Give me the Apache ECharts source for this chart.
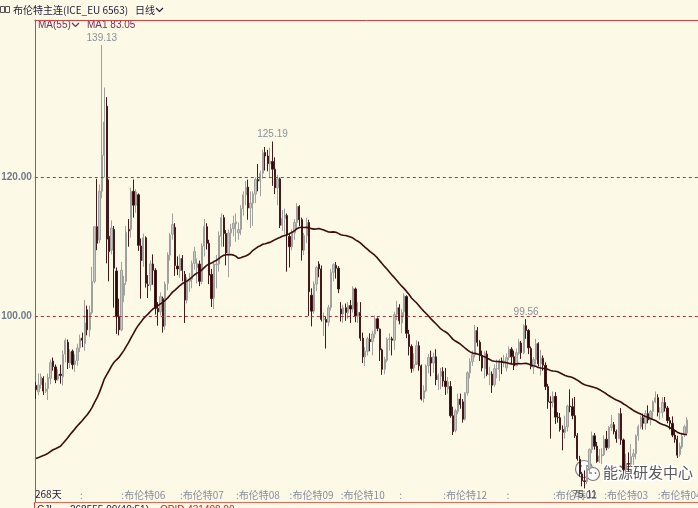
<!DOCTYPE html>
<html><head><meta charset="utf-8">
<script src="https://cdn.jsdelivr.net/npm/echarts/dist/echarts.min.js"></script>
<style>html,body{margin:0;padding:0;background:#fdf9e7;}#c{width:698px;height:508px;}</style>
</head><body><div id="c"></div>
<script>
// Trading days shown (268 bars)
const tradingDays = {
  '2022-01':[27,28,31],
  '2022-02':[1,2,3,4,7,8,9,10,11,14,15,16,17,18,21,22,23,24,25,28],
  '2022-03':[1,2,3,4,7,8,9,10,11,14,15,16,17,18,21,22,23,24,25,28,29,30,31],
  '2022-04':[1,4,5,6,7,8,11,12,13,14,18,19,20,21,22,25,26,27,28,29],
  '2022-05':[2,3,4,5,6,9,10,11,12,13,16,17,18,19,20,23,24,25,26,27,30,31],
  '2022-06':[1,2,3,6,7,8,9,10,13,14,15,16,17,20,21,22,23,24,27,28,29,30],
  '2022-07':[1,4,5,6,7,8,11,12,13,14,15,18,19,20,21,22,25,26,27,28,29],
  '2022-08':[1,2,3,4,5,8,9,10,11,12,15,16,17,18,19,22,23,24,25,26,29,30,31],
  '2022-09':[1,2,5,6,7,8,9,12,13,14,15,16,19,20,21,22,23,26,27,28,29,30],
  '2022-10':[3,4,5,6,7,10,11,12,13,14,17,18,19,20,21,24,25,26,27,28,31],
  '2022-11':[1,2,3,4,7,8,9,10,11,14,15,16,17,18,21,22,23,24,25,28,29,30],
  '2022-12':[1,2,5,6,7,8,9,12,13,14,15,16,19,20,21,22,23,27,28,29,30],
  '2023-01':[3,4,5,6,9,10,11,12,13,16,17,18,19,20,23,24,25,26,27,30,31],
  '2023-02':[1,2,3,6,7,8,9]
};
const opens = [
89.96,89.06,90.08,91.0,89.15,89.52,91.01,93.50,92.65,90.90,
91.60,91.20,94.50,96.20,93.20,94.90,93.00,93.60,95.4,96.8,
96.0,100.9,98.0,100.5,105.0,112.9,111.0,118.0,123.2,130.3,
111.5,109.5,112.5,106.5,100.0,98.0,103.0,105.0,112.5,112.5,
118.0,116.0,117.5,110.1,108.0,111.3,104.5,104.5,107.5,106.6,
101.1,100.6,102.5,98.6,104.7,108.8,111.8,112.8,107.2,106.5,
108.3,106.0,102.3,105.0,105.3,107.6,107.0,107.5,105.0,110.1,
112.9,110.5,106.0,102.6,107.4,107.5,111.5,114.2,111.9,109.0,
112.0,112.6,113.3,112.0,112.5,115.5,117.5,118.6,115.6,116.3,
117.6,119.7,119.5,120.6,123.6,123.1,122.0,122.3,121.2,118.5,
119.8,113.1,114.1,114.5,111.5,110.0,112.0,113.5,115.8,113.9,
109.5,111.6,113.5,103.0,100.7,104.6,107.5,106.8,99.5,99.5,
99.1,101.2,106.3,107.3,106.9,101.0,100.3,101.2,100.5,101.5,
101.0,103.9,100.0,100.5,96.8,94.1,94.9,96.6,96.3,97.4,
99.6,98.1,95.1,92.3,93.6,96.6,96.7,96.5,100.2,101.2,
99.0,100.6,102.8,97.3,95.6,92.5,93.0,95.7,92.8,88.1,
89.2,92.8,94.0,93.2,94.1,90.8,91.3,92.0,90.6,89.5,
89.8,85.6,83.5,86.2,88.0,87.6,85.1,88.9,91.8,93.4,
94.4,97.9,96.2,94.3,92.4,94.5,91.6,91.6,90.1,92.4,
92.3,93.5,93.3,92.5,94.0,95.2,94.1,92.8,94.6,96.1,
94.7,98.6,97.9,95.3,92.6,93.7,96.0,93.1,93.9,92.9,
89.8,87.6,87.5,88.4,85.4,85.3,83.6,83.2,84.0,87.0,
86.9,85.6,82.7,79.3,77.2,76.2,76.1,78.0,80.7,82.7,
81.2,79.0,79.8,80.0,82.2,81.0,83.9,84.3,83.3,82.3,
85.9,82.1,77.8,78.7,78.6,79.7,80.1,82.7,84.0,85.3,
84.5,85.9,85.0,86.2,87.6,88.2,86.1,86.1,87.5,86.7,
84.9,84.5,82.8,82.2,80.0,81.1,82.8,83.1];
const closes = [
89.34,90.03,91.21,89.16,89.47,91.11,93.27,92.69,90.78,91.55,
91.41,94.44,96.48,93.28,94.81,92.97,93.54,95.39,96.8,96.5,
99.0,98.0,100.5,105.0,112.9,110.5,118.0,123.2,128.0,111.1,
109.3,112.7,106.9,99.9,98.0,106.6,104.7,112.1,112.3,118.0,
116.0,117.9,110.2,108.0,111.3,104.7,104.4,107.5,106.6,101.1,
100.6,102.8,98.5,104.6,108.8,111.7,113.2,107.3,106.8,108.3,
106.6,102.3,105.0,105.3,107.6,109.3,107.6,105.0,110.1,112.9,
110.5,105.9,102.5,107.5,107.5,111.6,114.2,111.9,109.1,112.0,
112.6,113.4,113.6,112.5,115.5,117.5,118.6,115.6,116.3,117.6,
119.7,119.5,120.6,123.6,123.1,122.0,122.3,121.2,118.5,119.8,
113.1,114.1,114.6,111.7,110.0,112.0,113.5,115.8,113.9,109.5,
111.6,113.5,103.5,100.7,104.6,107.0,106.8,99.5,99.6,99.1,
101.2,106.3,107.4,106.9,103.9,100.3,101.2,100.5,101.5,101.0,
104.0,100.0,100.5,96.8,94.1,94.9,96.7,96.3,97.4,99.6,
98.2,95.1,92.3,93.7,96.6,96.7,96.5,100.2,101.2,99.3,
100.5,102.9,97.5,95.6,92.4,93.0,95.7,92.8,88.0,89.2,
92.8,94.0,93.2,94.1,90.8,91.4,92.0,90.6,89.8,90.5,
85.6,83.3,86.3,88.0,87.2,85.1,88.9,91.8,93.4,94.4,
97.9,96.2,94.3,92.5,94.6,91.6,91.6,90.0,92.4,92.4,
93.5,93.3,93.5,94.0,95.2,94.1,92.8,94.7,96.2,94.7,
98.6,97.9,95.4,92.7,93.7,96.0,93.1,93.9,92.9,89.8,
87.6,87.5,88.4,85.4,85.3,83.6,83.2,84.0,87.0,86.9,
85.6,82.7,79.4,77.2,76.2,76.1,78.0,80.7,82.7,81.2,
79.0,79.8,80.0,82.2,81.0,83.9,84.3,83.3,82.3,85.9,
82.1,77.8,78.7,78.6,79.7,80.1,82.7,84.0,85.3,84.5,
85.9,85.0,86.2,87.6,88.2,86.1,86.1,87.5,86.7,84.9,
84.5,82.8,82.2,79.9,81.2,82.6,84.0,85.0];
const lows = [
88.03,88.55,89.51,88.6,88.86,87.86,90.16,92.11,90.30,90.63,
90.23,89.94,93.30,92.34,92.49,92.30,91.93,92.80,94.8,95.5,
95.0,97.2,97.0,100.2,104.7,109.5,110.5,117.0,120.0,107.6,
105.0,108.9,101.2,97.4,97.2,97.8,102.0,104.5,110.0,111.3,
114.2,114.9,109.4,102.5,107.1,104.1,102.6,103.6,104.5,100.2,
98.6,100.1,97.6,98.0,103.7,108.0,111.0,105.8,105.9,105.5,
105.0,99.0,101.8,103.5,104.0,106.7,104.7,104.3,104.6,108.6,
109.6,104.6,101.3,101.0,104.0,106.4,110.0,110.0,107.3,105.6,
110.0,111.5,110.7,111.0,111.7,114.5,116.0,113.9,112.7,113.0,
116.3,118.0,117.3,119.8,121.0,120.9,119.9,118.8,117.6,116.0,
112.7,112.3,111.8,106.4,107.0,109.5,111.0,112.5,113.0,108.0,
108.8,110.5,100.0,98.5,100.3,103.6,105.6,99.2,97.1,95.3,
98.5,100.8,105.0,105.4,103.3,99.2,99.0,99.3,99.6,99.0,
100.5,99.1,99.0,96.4,93.2,92.8,94.3,94.9,94.3,96.8,
97.8,93.5,91.5,91.6,93.3,95.0,94.3,95.1,99.4,98.8,
97.5,100.0,96.8,94.3,91.8,92.0,93.4,92.1,87.8,87.5,
89.0,91.7,91.3,91.8,90.0,89.3,89.4,89.8,88.6,88.8,
85.3,82.8,83.2,85.8,86.6,84.6,84.9,88.5,91.0,92.8,
94.0,95.6,93.5,92.0,91.0,91.3,90.0,88.9,89.8,91.0,
90.6,91.6,92.6,92.0,93.6,93.0,92.2,92.8,94.4,93.8,
94.5,96.7,94.5,92.3,91.6,93.0,92.7,91.4,92.1,89.3,
86.6,82.3,86.8,84.4,84.6,83.3,80.6,82.3,83.3,86.1,
85.1,82.4,79.1,76.8,75.4,75.11,75.7,77.2,80.2,80.7,
78.8,78.8,78.6,79.8,80.6,80.8,83.4,82.9,81.7,82.2,
81.4,77.6,77.1,77.5,78.2,78.5,79.3,82.0,83.7,83.6,
83.6,84.5,84.2,85.2,87.4,85.5,85.0,85.3,86.2,84.5,
83.6,82.5,81.7,79.5,79.7,80.8,82.5,82.9];
const highs = [
90.47,91.70,91.70,91.3,90.40,91.70,93.70,94.00,93.00,92.29,
92.97,95.04,96.78,96.60,95.20,95.15,94.46,96.00,97.3,97.6,
102.3,101.5,101.5,107.1,113.0,119.8,119.0,139.13,133.0,131.6,
119.7,113.8,113.0,107.0,102.5,107.8,105.8,113.0,114.0,118.5,
119.7,118.3,117.7,111.2,111.9,111.5,105.9,108.0,108.9,106.9,
102.0,103.4,102.8,105.0,109.2,112.0,114.8,113.4,108.6,108.9,
108.8,106.5,105.6,106.2,108.0,110.0,108.3,108.0,110.5,114.0,
113.4,111.0,106.8,108.0,108.8,112.2,114.8,114.6,112.4,112.5,
113.3,114.5,114.8,113.5,116.0,118.0,119.5,119.7,118.0,118.0,
120.0,121.95,121.0,124.0,124.4,124.0,124.3,125.19,122.9,120.4,
120.0,115.3,115.5,114.8,112.0,112.5,114.0,116.3,116.0,114.2,
112.0,114.2,113.9,104.0,105.0,107.2,107.9,107.3,100.5,99.9,
101.6,106.8,107.6,107.8,107.2,102.0,101.6,101.8,102.0,102.3,
104.3,104.1,102.0,102.0,97.6,95.5,97.0,97.5,97.9,100.1,
99.8,98.2,95.3,94.1,96.9,97.5,97.0,100.6,102.2,101.7,
101.0,103.3,103.0,98.0,95.9,94.6,96.5,96.3,93.0,90.0,
93.0,94.5,95.0,94.7,95.2,91.7,92.5,92.6,92.5,91.2,
90.6,86.9,86.6,88.8,88.8,88.0,89.0,92.0,93.9,95.0,
98.7,98.4,96.5,95.0,94.9,95.0,92.7,92.0,93.0,93.7,
93.8,94.0,94.4,94.6,95.6,95.5,95.0,95.3,96.7,96.4,
98.8,99.56,98.1,95.6,94.1,96.7,96.2,95.1,94.3,93.3,
90.2,88.4,89.1,89.0,86.1,86.0,84.2,85.6,87.2,89.4,
88.1,88.3,83.1,79.8,77.5,77.7,78.3,80.9,83.3,83.1,
81.8,80.8,80.9,82.8,83.4,84.1,85.7,84.7,83.6,86.0,
86.7,82.3,80.1,80.3,81.5,80.8,82.9,84.3,85.6,85.9,
86.4,87.1,86.4,87.8,89.1,88.7,86.8,88.3,88.3,87.0,
85.4,85.5,83.5,82.7,81.7,83.0,84.3,85.4];
// 54 closes before the first bar, only used so the MA(55) starts correctly
const priorCloses = [
82.17,82.05,82.43,80.28,81.24,78.89,79.70,82.31,82.25,81.86,72.72,73.44,70.57,
68.87,69.67,69.88,73.08,75.44,75.82,75.15,75.15,73.90,73.70,73.88,75.02,73.52,71.52,73.98,75.29,76.85,76.14,78.60,79.94,79.23,79.32,77.78,
78.98,80.00,80.80,81.99,81.75,80.87,83.72,84.67,84.47,86.06,86.48,87.51,88.44,88.38,87.89,86.27,88.20,89.96];
const maPeriod = 55;
// Main-contract switch marks on the time axis
const rollIndex = [18,35,59,82,104,125,149,167,193,212,233,255];
const rollText = [':',':布伦特06',':布伦特07',':布伦特08',':布伦特09',':布伦特10',':',':布伦特12',':',':布伦特02',':布伦特03',':布伦特04'];
const yLines = [100, 120];
const padBars = 4;

const dates = [];
Object.keys(tradingDays).forEach(m => tradingDays[m].forEach(d => dates.push(m + '-' + String(d).padStart(2,'0'))));
const cats = dates.concat(Array(padBars).fill(''));
const candle = opens.map((o,i) => [o, closes[i], lows[i], highs[i]]);
const allC = priorCloses.concat(closes);
const ma = closes.map((c,i) => {
  const j = i + priorCloses.length;
  let s = 0; for (let k = j - maPeriod + 1; k <= j; k++) s += allC[k];
  return +(s / maPeriod).toFixed(3);
});
function argMax(a, from, to){let b=from;for(let i=from;i<=to;i++) if(a[i]>a[b]) b=i;return b;}
function argMin(a, from, to){let b=from;for(let i=from;i<=to;i++) if(a[i]<a[b]) b=i;return b;}
const pk = [argMax(highs,0,60), argMax(highs,80,130), argMax(highs,185,215)];
const lo = argMin(lows,0,lows.length-1);
const labelRoll = {}; rollIndex.forEach((v,i)=>labelRoll[v]=rollText[i]);

const chart = echarts.init(document.getElementById('c'), null, {renderer:'canvas'});
const gray = '#8a8f99';
chart.setOption({
  backgroundColor: '#fdf9e7',
  animation: false,
  grid: {left: 34.8, right: 0, top: 20, bottom: 6, containLabel: false, outerBoundsMode: 'none'},
  xAxis: [{
    type: 'category', data: cats, boundaryGap: true,
    axisLine: {show: true, lineStyle: {color: '#e06a5a', width: 1}},
    axisTick: {show: false},
    axisLabel: {
      inside: true, margin: 2, align: 'left', hideOverlap: false,
      interval: (i) => labelRoll[i] !== undefined,
      formatter: (v, i) => labelRoll[i] || '',
      color: '#868c9a', fontSize: 10, fontFamily: '"Noto Sans CJK SC"'
    },
    splitLine: {show: false}
  },{
    type: 'category', data: cats, position: 'top', gridIndex: 0,
    axisLine: {show: true, lineStyle: {color: '#d94040', width: 1}},
    axisTick: {show: false}, axisLabel: {show: false}, splitLine: {show: false}
  }],
  yAxis: {
    type: 'value', min: 73.14, max: 142.74, scale: true,
    axisLine: {show: true, lineStyle: {color: '#d94040', width: 1}},
    axisTick: {show: false}, axisLabel: {show: false}, splitLine: {show: false}
  },
  series: [{
    type: 'candlestick', data: candle, barWidth: 1.8,
    itemStyle: {color: '#c6c6c3', color0: '#240606', borderColor: '#a0a09d', borderColor0: '#461a1a', borderWidth: 1},
    markLine: {
      silent: true, symbol: 'none',
      lineStyle: {type: [3,3], color: '#b03434', width: 1},
      label: {position: 'start', distance: 3, formatter: p => p.value.toFixed(2), color: '#6f7b8d', fontSize: 10, fontFamily: 'Liberation Sans', fontWeight: 'bold'},
      data: yLines.map(v => ({yAxis: v}))
    },
    markPoint: {
      symbol: 'circle', symbolSize: 0, silent: true,
      label: {show: true, color: gray, fontSize: 10, fontFamily: 'Liberation Sans', formatter: p => p.value.toFixed(2)},
      data: pk.map(i => ({coord: [i, highs[i]], value: highs[i], label: {position: 'top', distance: 2}}))
        .concat([{coord: [lo, lows[lo]], value: lows[lo], label: {position: 'bottom', distance: 2, color: '#4a4a4a'}}])
    }
  },{
    type: 'line', data: ma, showSymbol: false, symbol: 'none',
    lineStyle: {color: '#3e0c0c', width: 1.6}, z: 5
  }],
  graphic: [
    {type:'rect', shape:{x:0.5,y:6.5,width:4,height:6}, style:{fill:'none', stroke:'#555', lineWidth:1}},
    {type:'rect', shape:{x:5.5,y:6.5,width:4,height:6}, style:{fill:'none', stroke:'#555', lineWidth:1}},
    {type:'text', x:13, y:10, style:{text:'布伦特主连(ICE_EU 6563)', fill:'#1c1c38', font:'10px "Noto Sans CJK SC"', verticalAlign:'middle'}},
    {type:'text', x:135, y:10, style:{text:'日线', fill:'#1c1c38', font:'10px "Noto Sans CJK SC"', verticalAlign:'middle'}},
    {type:'polyline', shape:{points:[[156,8],[159.5,11.5],[163,8]]}, style:{stroke:'#1c1c38', lineWidth:1.2, fill:'none'}},
    {type:'text', x:38, y:25, style:{text:'MA(55)', fill:'#7a2a5e', font:'10px "Liberation Sans"', verticalAlign:'middle'}},
    {type:'polyline', shape:{points:[[72,23],[75.5,26.5],[79,23]]}, style:{stroke:'#7a2a5e', lineWidth:1.2, fill:'none'}},
    {type:'text', x:87, y:25, style:{text:'MA1 83.05', fill:'#7a2a5e', font:'10px "Liberation Sans"', verticalAlign:'middle'}},
    {type:'text', x:35, y:494, style:{text:'268天', fill:'#1c1c38', font:'10px "Noto Sans CJK SC"', verticalAlign:'middle'}},
    {type:'line', shape:{x1:34.5,y1:502,x2:34.5,y2:508}, style:{stroke:'#d94040', lineWidth:1}},
    {type:'text', x:37, y:505, style:{text:'CJL', fill:'#1c1c38', font:'10px "Liberation Sans"', verticalAlign:'top'}},
    {type:'text', x:70, y:505, style:{text:'268555.00(40:51)', fill:'#1c1c38', font:'10px "Liberation Sans"', verticalAlign:'top'}},
    {type:'text', x:160, y:505, style:{text:'OPID 431408.00', fill:'#d02020', font:'10px "Liberation Sans"', verticalAlign:'top'}},
    {type:'group', children:[
      {type:'circle', shape:{cx:584,cy:469,r:8.5}, style:{fill:'#fff', stroke:'#7a7a7a', lineWidth:1.2}},
      {type:'circle', shape:{cx:593,cy:474,r:6.5}, style:{fill:'#fff', stroke:'#7a7a7a', lineWidth:1.2}},
      {type:'circle', shape:{cx:581,cy:466,r:1}, style:{fill:'#7a7a7a'}},
      {type:'circle', shape:{cx:587,cy:466,r:1}, style:{fill:'#7a7a7a'}},
      {type:'circle', shape:{cx:591,cy:473,r:0.9}, style:{fill:'#7a7a7a'}},
      {type:'circle', shape:{cx:595.5,cy:473,r:0.9}, style:{fill:'#7a7a7a'}},
      {type:'text', x:603, y:472, style:{text:'能源研发中心', fill:'#5a5a5a', stroke:'#ffffff', lineWidth:3, font:'15px "Noto Sans CJK SC"', verticalAlign:'middle'}}
    ]}
  ]
});
</script></body></html>
